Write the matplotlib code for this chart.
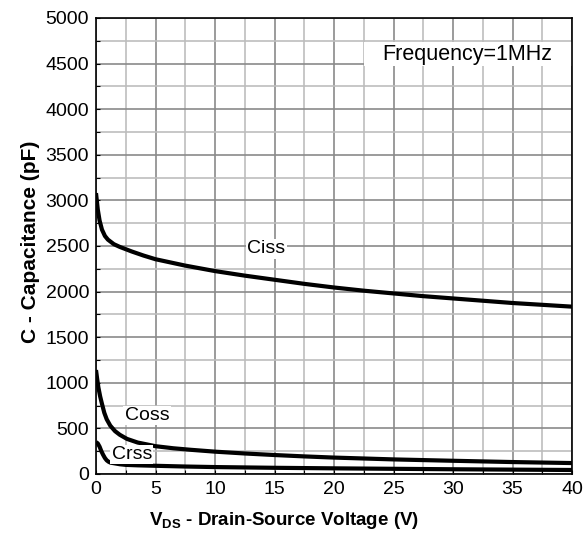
import matplotlib.pyplot as plt
from matplotlib.patches import Rectangle
import numpy as np

plt.rcParams['font.family'] = ['Liberation Sans', 'DejaVu Sans']
plt.rcParams['mathtext.fontset'] = 'custom'
plt.rcParams['mathtext.rm'] = 'Liberation Sans:bold'
plt.rcParams['mathtext.bf'] = 'Liberation Sans:bold'

# Capacitance vs drain-source voltage
ciss_v = [0, 0.15, 0.3, 0.5, 0.75, 1, 1.5, 2, 3, 4, 5, 7.5, 10, 12.5, 15, 17.5, 20,
          22.5, 25, 27.5, 30, 32.5, 35, 37.5, 40]
ciss_c = [3080, 2900, 2780, 2680, 2610, 2570, 2520, 2490, 2440, 2395, 2355, 2285, 2225,
          2175, 2130, 2085, 2045, 2010, 1980, 1950, 1925, 1900, 1875, 1855, 1835]

coss_v = [0, 0.1, 0.2, 0.35, 0.5, 0.7, 0.9, 1.2, 1.6, 2, 2.6, 3.5, 5, 6.5, 8, 10, 12.5,
          15, 17.5, 20, 25, 30, 35, 40]
coss_c = [1140, 1040, 950, 850, 770, 670, 600, 530, 470, 430, 385, 345, 305, 282, 265,
          245, 225, 208, 193, 180, 160, 145, 131, 120]

crss_v = [0, 0.15, 0.3, 0.45, 0.6, 0.75, 0.9, 1.05, 1.2, 2, 2.5, 3.5, 5, 7.5, 10, 15,
          20, 25, 30, 35, 40]
crss_c = [350, 335, 300, 250, 210, 175, 150, 135, 125, 107, 100, 95, 90, 82, 76, 68,
          62, 57, 52, 48, 44]

fig = plt.figure(figsize=(5.84, 5.40), dpi=100)
ax = fig.add_axes([96 / 584, 66 / 540, 476 / 584, 456 / 540])

for v, c in [(ciss_v, ciss_c), (coss_v, coss_c), (crss_v, crss_c)]:
    ax.plot(v, c, color='black', lw=3.0, solid_capstyle='butt', zorder=3)

ax.set_xlim(0, 40)
ax.set_ylim(0, 5000)
ax.set_xticks(np.arange(0, 41, 5))
ax.set_yticks(np.arange(0, 5001, 500))
ax.set_xticks(np.arange(0, 40.1, 2.5), minor=True)
ax.set_yticks(np.arange(0, 5001, 250), minor=True)
ax.grid(True, which='major', color='#8a8a8a', lw=1.2, zorder=1)
ax.grid(True, which='minor', color='#bdbdbd', lw=1.2, zorder=1)
ax.set_axisbelow(True)
ax.tick_params(which='both', direction='in', length=3, width=0.8)
ax.tick_params(which='major', labelsize=14, pad=5)
for s in ax.spines.values():
    s.set_linewidth(1.2)

box = dict(facecolor='white', edgecolor='none', pad=1.0)
ax.text(14.3, 2470, 'Ciss', fontsize=14, ha='center', va='center', bbox=box, zorder=4)
ax.text(4.3, 640, 'Coss', fontsize=14, ha='center', va='center', bbox=box, zorder=4)
ax.text(3.0, 215, 'Crss', fontsize=14, ha='center', va='center', bbox=box, zorder=4)

ax.add_patch(Rectangle((22.5, 4474), 17.5, 263, facecolor='white', edgecolor='none', zorder=2))
ax.text(31.2, 4600, 'Frequency=1MHz', fontsize=15.5, ha='center', va='center', zorder=4)

ax.set_ylabel('C - Capacitance (pF)', fontsize=15, fontweight='bold', labelpad=4)
ax.set_xlabel(r'V$_{\mathbf{DS}}$ - Drain-Source Voltage (V)', fontsize=13.5,
              fontweight='bold', labelpad=9)
ax.xaxis.label.set_x(0.395)
ax.yaxis.label.set_y(0.51)

fig.savefig('out.png', dpi=100)
